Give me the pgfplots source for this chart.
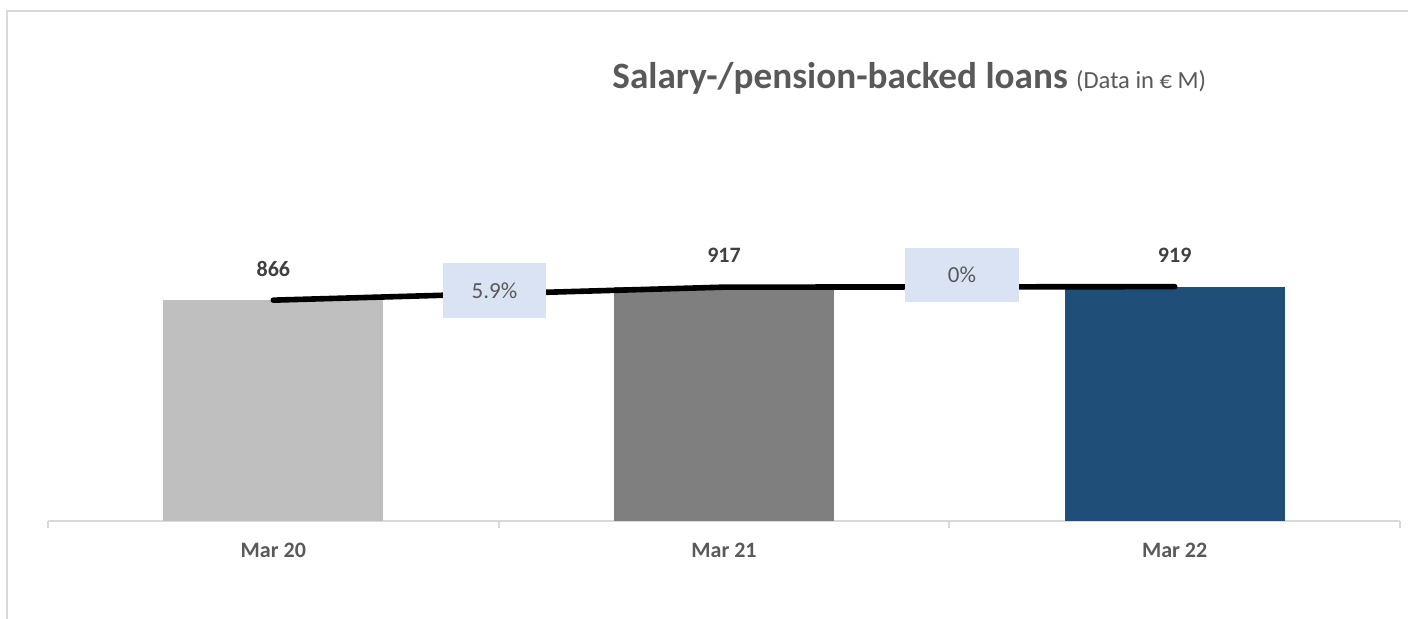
\documentclass[border=0pt]{standalone}
\usepackage{pgfplots}
\pgfplotsset{compat=1.18}
\usepackage{fontspec}
\setmainfont{Carlito}

\definecolor{framegray}{HTML}{D9D9D9}
\definecolor{axisgray}{HTML}{D9D9D9}
\definecolor{barA}{HTML}{BFBFBF}
\definecolor{barB}{HTML}{7F7F7F}
\definecolor{barC}{HTML}{1F4E79}
\definecolor{titlegray}{HTML}{595959}
\definecolor{valgray}{HTML}{404040}
\definecolor{boxblue}{HTML}{DAE3F3}

\begin{document}
\begin{tikzpicture}
	% page = 1408 x 619 px, 1 px = 0.5pt
	\path[use as bounding box] (0,0) rectangle (704pt,309.5pt);
	\draw[framegray, line width=1pt] (3.5pt,-2pt) -- (3.5pt,304pt) -- (706pt,304pt);

	% title
	\node[anchor=base west, inner sep=0pt, text=titlegray] at (306pt,265pt)
		{\fontsize{18.6}{20}\selectfont\bfseries Salary-/pension-backed loans\ \fontsize{12.3}{14}\selectfont\mdseries(Data in € M)};

	\begin{axis}[
		at={(24pt,49pt)}, anchor=south west,
		scale only axis,
		width=676pt, height=255pt,
		xmin=-0.5, xmax=2.5,
		ymin=0, ymax=2000,
		axis y line=none,
		axis x line*=bottom,
		x axis line style={draw=axisgray, line width=1pt},
		xtick={0,1,2},
		xticklabels={Mar 20, Mar 21, Mar 22},
		major tick length=0pt,
		xticklabel style={font=\fontsize{11}{13}\selectfont\bfseries, text=titlegray, anchor=center, yshift=-14.5pt},
		extra x ticks={-0.5,0.5,1.5,2.5},
		extra x tick labels={},
		extra x tick style={major tick length=3.5pt, tick align=outside, tick style={draw=axisgray, line width=1pt}},
		/pgf/number format/assume math mode=true,
		ybar, bar width=110pt, bar shift=0pt,
		clip=false,
		nodes near coords,
		every node near coord/.append style={font=\fontsize{11}{13}\selectfont\bfseries, text=valgray, anchor=center, yshift=15.75pt},
		]
		\addplot[fill=barA, draw=none] coordinates {(0,866)};
		\addplot[fill=barB, draw=none] coordinates {(1,917)};
		\addplot[fill=barC, draw=none] coordinates {(2,919)};

		% growth line
		\addplot[sharp plot, black, line width=2.8pt, line cap=round, nodes near coords=] coordinates {(0,866) (1,917) (2,919)};

		% growth boxes
		\node[fill=boxblue, minimum width=51.5pt, minimum height=27.5pt, inner sep=0pt, text=titlegray, font=\fontsize{11.5}{13}\selectfont]
			at (axis cs:0.4907,904) {5.9\%};
		\node[fill=boxblue, minimum width=57pt, minimum height=27pt, inner sep=0pt, text=titlegray, font=\fontsize{11.5}{13}\selectfont]
			at (axis cs:1.528,965) {0\%};
	\end{axis}
\end{tikzpicture}
\end{document}
